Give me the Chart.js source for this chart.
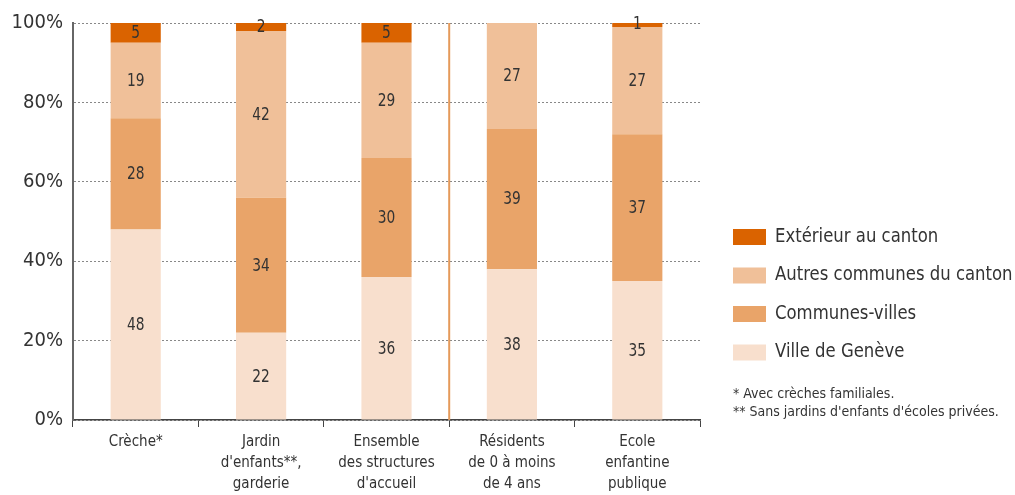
<!DOCTYPE html>
<html>
<head>
<meta charset="utf-8">
<script src="https://cdn.jsdelivr.net/npm/chart.js@4/dist/chart.umd.min.js"></script>
<style>
html,body{margin:0;padding:0;background:#fff;}
#wrap{width:1015px;height:495px;position:relative;}
</style>
</head>
<body>
<div id="wrap"><canvas id="c" width="1015" height="495"></canvas></div>
<script>
const categories = [
  ["Crèche*"],
  ["Jardin", "d'enfants**,", "garderie"],
  ["Ensemble", "des structures", "d'accueil"],
  ["Résidents", "de 0 à moins", "de 4 ans"],
  ["Ecole", "enfantine", "publique"]
];
const seriesNames = ["Ville de Genève", "Communes-villes", "Autres communes du canton", "Extérieur au canton"];
const seriesColors = ["#F8DFCD", "#E9A469", "#F0C099", "#DA6300"];
// bar heights as drawn (percent)
const villeGeneve = [48, 22, 36, 38, 35];
const communesVilles = [28, 34, 30, 35.3, 37];
const autresCommunes = [19, 42, 29, 26.7, 27];
const exterieur = [5, 2, 5, 0, 1.5];
// numbers printed on the segments
const villeGeneveText = [48, 22, 36, 38, 35];
const communesVillesText = [28, 34, 30, 39, 37];
const autresCommunesText = [19, 42, 29, 27, 27];
const exterieurText = [5, 2, 5, null, 1];
const yTicks = [0, 20, 40, 60, 80, 100];
const footnotes = ["* Avec crèches familiales.", "** Sans jardins d'enfants d'écoles privées."];
const separatorAfter = 2;

const FONT = "'Liberation Sans Narrow', 'DejaVu Sans Condensed', 'Liberation Sans', sans-serif";
const seriesData = [villeGeneve, communesVilles, autresCommunes, exterieur];
const seriesText = [villeGeneveText, communesVillesText, autresCommunesText, exterieurText];

const segLabels = {
  id: 'segLabels',
  afterDatasetsDraw(chart) {
    const ctx = chart.ctx;
    ctx.save();
    ctx.font = "17px " + FONT;
    ctx.fillStyle = "#333";
    ctx.textAlign = "center";
    ctx.textBaseline = "middle";
    chart.data.datasets.forEach((ds, di) => {
      const meta = chart.getDatasetMeta(di);
      meta.data.forEach((bar, i) => {
        const t = seriesText[di][i];
        if (t === null || t === undefined) return;
        ctx.save();
        ctx.translate(bar.x, (bar.y + bar.base) / 2 + 1);
        ctx.scale(0.9, 1);
        ctx.fillText(String(t), 0, 0);
        ctx.restore();
      });
    });
    ctx.restore();
  }
};

const separator = {
  id: 'separator',
  afterDatasetsDraw(chart) {
    const xs = chart.scales.x, a = chart.chartArea;
    const x = (xs.getPixelForValue(separatorAfter) + xs.getPixelForValue(separatorAfter + 1)) / 2;
    const ctx = chart.ctx;
    ctx.save();
    ctx.strokeStyle = "#E59A5A";
    ctx.lineWidth = 2;
    ctx.beginPath();
    ctx.moveTo(x, a.top);
    ctx.lineTo(x, a.bottom);
    ctx.stroke();
    ctx.restore();
  }
};

const sideLegend = {
  id: 'sideLegend',
  afterDraw(chart) {
    const ctx = chart.ctx;
    ctx.save();
    const order = [3, 2, 1, 0];
    ctx.textBaseline = "middle";
    ctx.textAlign = "left";
    order.forEach((di, k) => {
      const y = 237 + k * 38.5;
      ctx.fillStyle = chart.data.datasets[di].backgroundColor;
      ctx.fillRect(733, y - 8, 33, 16);
      ctx.fillStyle = "#333";
      ctx.save();
      ctx.translate(775, y);
      ctx.scale(0.965, 1);
      ctx.font = "19px " + FONT;
      ctx.fillText(chart.data.datasets[di].label, 0, 0);
      ctx.restore();
    });
    ctx.fillStyle = "#333";
    ctx.font = "14px " + FONT;
    footnotes.forEach((f, k) => {
      ctx.fillText(f, 733, 394 + k * 18);
    });
    ctx.restore();
  }
};

new Chart(document.getElementById('c'), {
  type: 'bar',
  data: {
    labels: categories,
    datasets: seriesNames.map((n, i) => ({
      label: n,
      data: seriesData[i],
      backgroundColor: seriesColors[i],
      borderWidth: 0,
      barPercentage: 0.4,
      categoryPercentage: 1
    }))
  },
  options: {
    responsive: false,
    animation: false,
    devicePixelRatio: 1,
    layout: { padding: { top: 23, right: 315, left: 0, bottom: 0 } },
    plugins: { legend: { display: false }, tooltip: { enabled: false } },
    scales: {
      x: {
        stacked: true,
        grid: { display: true, drawOnChartArea: false, drawTicks: true, tickLength: 7, color: "#444", offset: true },
        border: { display: true, color: "#444", width: 1.5 },
        ticks: { font: { family: FONT, size: 15, lineHeight: 1.4 }, color: "#333", padding: 5, maxRotation: 0, autoSkip: false },
        afterFit(s) { s.height = 75; }
      },
      y: {
        stacked: true,
        min: 0, max: 100,
        afterBuildTicks(s) { s.ticks = yTicks.map(v => ({ value: v })); },
        grid: { color: "#888", lineWidth: 1, drawTicks: false },
        border: { display: true, color: "#666", width: 2, dash: [2, 2] },
        ticks: { font: { family: FONT, size: 20 }, color: "#333", padding: 10, callback: v => v + "%" },
        afterFit(s) { s.width = 73; }
      }
    }
  },
  plugins: [segLabels, separator, sideLegend]
});
</script>
</body>
</html>
